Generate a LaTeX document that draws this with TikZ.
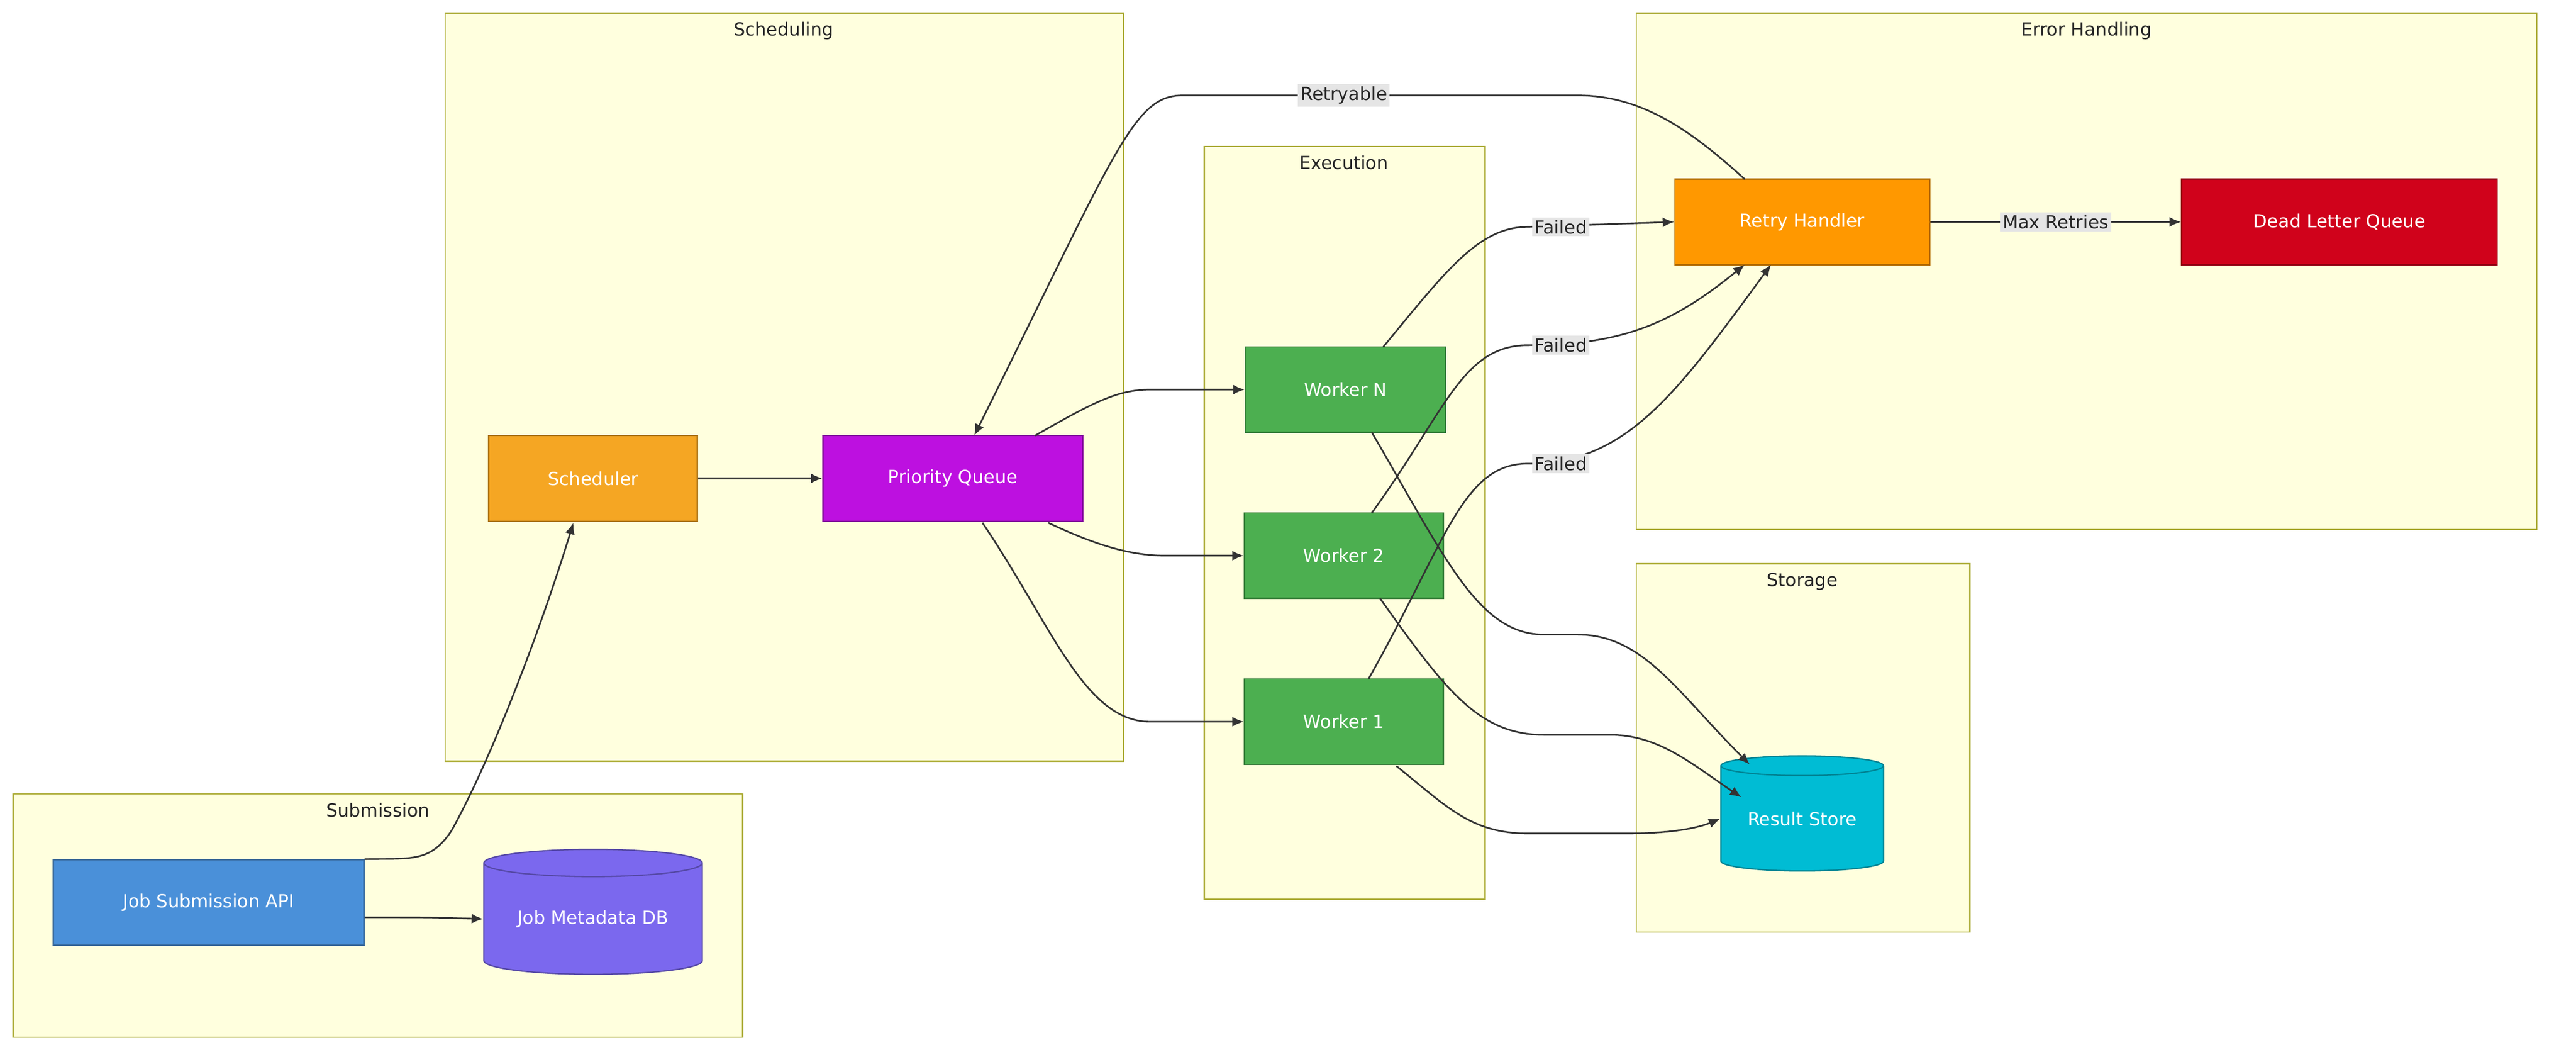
\documentclass[tikz,border=0pt]{standalone}
\usepackage{fontspec}
\setmainfont{DejaVu Sans}
\usetikzlibrary{shapes.geometric,arrows.meta}
\definecolor{clfill}{HTML}{FFFFDE}
\definecolor{cldraw}{HTML}{AAAA33}
\definecolor{edge}{HTML}{333333}
\tikzset{
  cluster/.style={draw=cldraw,fill=clfill,line width=0.8pt},
  cltitle/.style={font=\fontsize{11}{13}\selectfont,text=black!85,anchor=north},
  box/.style={draw=#1!70!black,fill=#1,text=white,font=\fontsize{11}{13}\selectfont,minimum height=52pt,inner sep=0pt,line width=0.8pt},
  cyl/.style={cylinder,shape border rotate=90,aspect=0.18,draw=#1!70!black,fill=#1,text=white,font=\fontsize{11}{13}\selectfont,inner sep=0pt,line width=0.8pt},
  arr/.style={draw=edge,line width=1pt,-{Latex[length=7pt,width=6pt]}},
  lbl/.style={fill=black!10,text=black!85,font=\fontsize{11}{13}\selectfont,inner sep=1.5pt}
}
\definecolor{cOrange}{HTML}{F5A623}
\definecolor{cPurple}{HTML}{BD10E0}
\definecolor{cGreen}{HTML}{4CAF50}
\definecolor{cRetry}{HTML}{FF9800}
\definecolor{cRed}{HTML}{D0021B}
\definecolor{cCyan}{HTML}{00BCD4}
\definecolor{cBlue}{HTML}{4A90D9}
\definecolor{cViolet}{HTML}{7B68EE}
\begin{document}
\begin{tikzpicture}[x=1pt,y=-1pt]
\fill[white] (0,0) rectangle (1568,646);
\useasboundingbox (0,0) rectangle (1568,646);
% clusters
\draw[cluster] (271,8) rectangle (684,463); \node[cltitle] (tsch) at (477,10) {Scheduling};
\draw[cluster] (733,89) rectangle (904,547); \node[cltitle] (texe) at (818,91) {Execution};
\draw[cluster] (996,8) rectangle (1544,322); \node[cltitle] (terr) at (1270,10) {Error Handling};
\draw[cluster] (996,343) rectangle (1199,567); \node[cltitle] (tsto) at (1097,345) {Storage};
\draw[cluster] (8,483) rectangle (452,631); \node[cltitle] (tsub) at (230,485) {Submission};
% nodes
\node[box=cOrange,minimum width=127pt] (sch) at (361,291) {Scheduler};
\node[box=cPurple,minimum width=158pt] (pq) at (580,291) {Priority Queue};
\node[box=cGreen,minimum width=122pt] (wn) at (819,237) {Worker N};
\node[box=cGreen,minimum width=121pt] (w2) at (818,338) {Worker 2};
\node[box=cGreen,minimum width=121pt] (w1) at (818,439) {Worker 1};
\node[box=cRetry,minimum width=155pt] (rh) at (1097,135) {Retry Handler};
\node[box=cRed,minimum width=192pt] (dlq) at (1424,135) {Dead Letter Queue};
\node[box=cBlue,minimum width=189pt] (api) at (127,549) {Job Submission API};
\node[cyl=cCyan,minimum width=99pt,minimum height=70pt] (rs) at (1097,498) {Result Store};
\node[cyl=cViolet,minimum width=133pt,minimum height=76pt] (db) at (361,559) {Job Metadata DB};
% edges
\draw[arr] (api.north east) .. controls (250,522) and (262,525) .. (275,505) .. controls (300,460) and (330,380) .. (349,318);
\draw[arr] (222,558) .. controls (260,558) .. (db.west);
\draw[arr] (sch) -- (pq);
\draw[arr] (630,265) .. controls (665,245) and (680,237) .. (700,237) -- (wn.west);
\draw[arr] (638,318) .. controls (670,333) and (690,338) .. (710,338) -- (w2.west);
\draw[arr] (598,318) .. controls (640,380) and (660,439) .. (700,439) -- (w1.west);
% failed
\node[lbl] (f1) at (950,138) {Failed};
\node[lbl] (f2) at (950,210) {Failed};
\node[lbl] (f3) at (950,282) {Failed};
\draw[arr] (842,211) .. controls (880,165) and (900,138) .. (930,138) -- (rh.west);
\draw[arr] (835,312) .. controls (880,250) and (890,210) .. (930,210) .. controls (990,210) and (1020,195) .. (1062,161);
\draw[arr] (833,413) .. controls (880,330) and (890,282) .. (930,282) .. controls (990,282) and (1020,240) .. (1078,161);
\node[lbl] at (950,138) {Failed};
\node[lbl] at (950,210) {Failed};
\node[lbl] at (950,282) {Failed};
% results
\draw[arr] (835,263) .. controls (880,340) and (900,386) .. (940,386) -- (960,386) .. controls (1000,386) and (1020,420) .. (1065,465);
\draw[arr] (840,364) .. controls (880,420) and (900,447) .. (940,447) -- (980,447) .. controls (1010,447) and (1030,465) .. (1060,485);
\draw[arr] (850,466) .. controls (880,490) and (895,507) .. (930,507) -- (990,507) .. controls (1020,507) and (1035,503) .. (rs.west);
% error
\draw[arr] (rh.east) -- node[lbl] (mr) {Max Retries} (dlq.west);
\draw[arr] (1062,109) .. controls (1030,80) and (1000,58) .. (960,58) -- (720,58) .. controls (690,58) and (680,90) .. (593,265);
\node[lbl] (rt) at (818,58) {Retryable};
\end{tikzpicture}
\end{document}
